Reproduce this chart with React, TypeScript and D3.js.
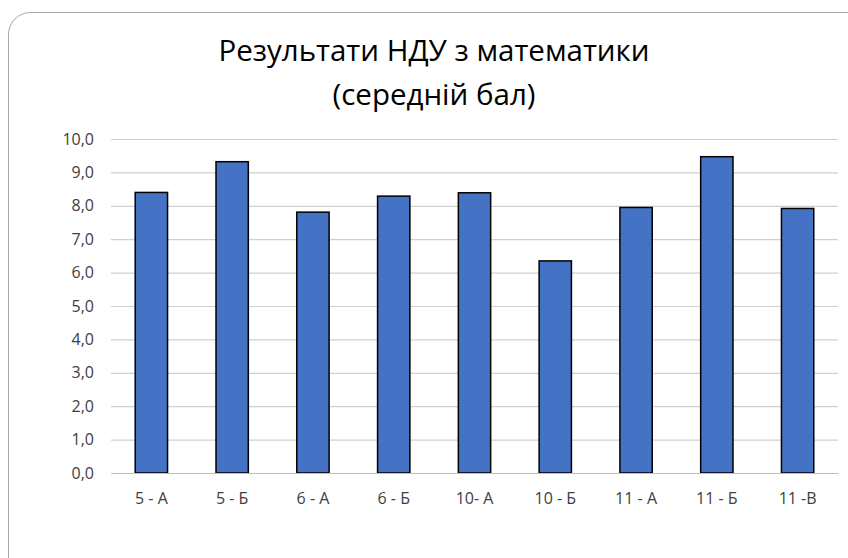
import { useRef, useEffect } from 'react';
import * as d3 from 'd3';

const classes = ['5 - А', '5 - Б', '6 - А', '6 - Б', '10- А', '10 - Б', '11 - А', '11 - Б', '11 -В'];
const scores = [8.4, 9.32, 7.81, 8.29, 8.39, 6.35, 7.95, 9.47, 7.92];
const yTicks = [0, 1, 2, 3, 4, 5, 6, 7, 8, 9, 10];
const titleLines = ['Результати НДУ з математики', '(середній бал)'];

const W = 848;
const H = 558;
const margin = { top: 139, right: 10, bottom: 85, left: 111 };
const font = '"Open Sans", sans-serif';

const App = () => {
  const svgRef = useRef<SVGSVGElement>(null);

  useEffect(() => {
    const svg = d3.select(svgRef.current);
    svg.selectAll('*').remove();

    const x = d3
      .scaleBand()
      .domain(classes)
      .range([margin.left, W - margin.right])
      .paddingInner(0.6)
      .paddingOuter(0.3);

    const y = d3.scaleLinear().domain([0, 10]).range([H - margin.bottom, margin.top]);

    // frame
    svg
      .append('rect')
      .attr('x', 8.5)
      .attr('y', 12.5)
      .attr('width', 870)
      .attr('height', 570)
      .attr('rx', 22)
      .attr('fill', '#fff')
      .attr('stroke', '#a6a6a6')
      .attr('stroke-width', 1);

    // title
    svg
      .append('text')
      .attr('text-anchor', 'middle')
      .attr('font-family', font)
      .attr('font-size', 29.5)
      .attr('fill', '#000')
      .selectAll('tspan')
      .data(titleLines)
      .join('tspan')
      .attr('x', 434)
      .attr('y', (d, i) => 61 + i * 44)
      .text((d) => d);

    // grid + y axis
    const yAxis = d3
      .axisLeft(y)
      .tickValues(yTicks)
      .tickSize(-(W - margin.right - margin.left))
      .tickFormat((d) => d3.format('.1f')(d as number).replace('.', ','));

    const gy = svg.append('g').attr('transform', `translate(${margin.left},0)`).call(yAxis);
    gy.select('.domain').remove();
    gy.selectAll('.tick line').attr('stroke', '#d0d0d0').attr('stroke-width', 1.2);
    gy.selectAll('.tick text')
      .attr('x', -17)
      .attr('fill', '#404040')
      .attr('font-size', 16)
      .attr('font-family', font);

    // bars
    svg
      .append('g')
      .selectAll('rect')
      .data(scores)
      .join('rect')
      .attr('x', (d, i) => x(classes[i])!)
      .attr('y', (d) => y(d))
      .attr('width', x.bandwidth())
      .attr('height', (d) => y(0) - y(d))
      .attr('fill', '#4472c4')
      .attr('stroke', '#000')
      .attr('stroke-width', 1.5);

    // x axis
    const xAxis = d3.axisBottom(x).tickSize(0).tickPadding(20);
    const gx = svg.append('g').attr('transform', `translate(0,${y(0)})`).call(xAxis);
    gx.select('.domain').attr('stroke', '#bfbfbf').attr('stroke-width', 1.2);
    gx.selectAll('.tick text')
      .attr('fill', '#404040')
      .attr('font-size', 16)
      .attr('font-family', font);
  }, []);

  return (
    <svg
      ref={svgRef}
      width={W}
      height={H}
      style={{ position: 'absolute', left: 0, top: 0, display: 'block' }}
    />
  );
};

export default App;
